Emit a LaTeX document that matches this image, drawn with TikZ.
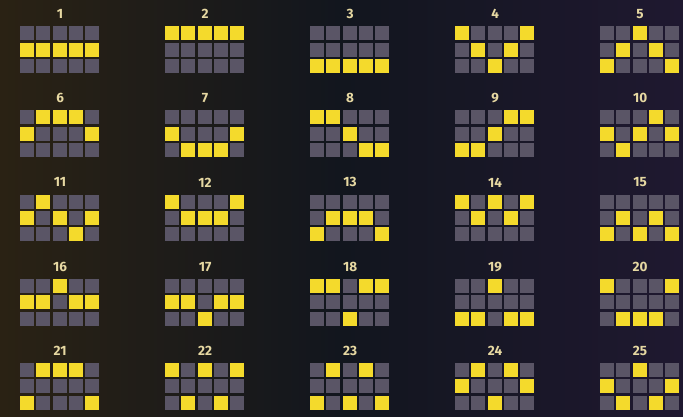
\documentclass[tikz,border=0pt]{standalone}
\usepackage{fontspec}
\setsansfont{Fira Sans}
\usetikzlibrary{positioning}
\definecolor{bgleft}{HTML}{2A2214}
\definecolor{bgmid}{HTML}{12161E}
\definecolor{bgright}{HTML}{1F1830}
\definecolor{cellon}{HTML}{F4DA2C}
\definecolor{celloff}{HTML}{5A5566}
\definecolor{numcol}{HTML}{E6D8A2}
\tikzset{cell/.style={draw=none, minimum size=14pt, inner sep=0pt, anchor=north west}}
\tikzset{numlabel/.style={text=numcol, font=\sffamily\bfseries\fontsize{13.5}{14}\selectfont, inner sep=0pt}}

\begin{document}
\begin{tikzpicture}[
  x=1pt,y=-1pt,
  backdrop/.style={draw=none}
]
  \useasboundingbox (0,0) rectangle (683,416);
  \shade[backdrop, left color=bgleft, right color=bgright, middle color=bgmid] (0,0) rectangle (683,416);

  \foreach \n/\pa/\pb/\pc/\pd/\pe in {
      1/1/1/1/1/1, 2/0/0/0/0/0, 3/2/2/2/2/2, 4/0/1/2/1/0, 5/2/1/0/1/2,
      6/1/0/0/0/1, 7/1/2/2/2/1, 8/0/0/1/2/2, 9/2/2/1/0/0, 10/1/2/1/0/1,
      11/1/0/1/2/1, 12/0/1/1/1/0, 13/2/1/1/1/2, 14/0/1/0/1/0, 15/2/1/2/1/2,
      16/1/1/0/1/1, 17/1/1/2/1/1, 18/0/0/2/0/0, 19/2/2/0/2/2, 20/0/2/2/2/0,
      21/2/0/0/0/2, 22/0/2/0/2/0, 23/2/0/2/0/2, 24/1/0/2/0/1, 25/1/2/0/2/1} {
    \pgfmathtruncatemacro{\gc}{mod(\n-1,5)}
    \pgfmathtruncatemacro{\gr}{int((\n-1)/5)}
    \pgfmathsetmacro{\gx}{19.6+145*\gc}
    \pgfmathsetmacro{\gy}{26+84.2*\gr}
    \node[numlabel] (num\n) at (\gx+40.5,\gy-12) {\n};
    \foreach \i/\act in {0/\pa,1/\pb,2/\pc,3/\pd,4/\pe} {
      \foreach \j in {0,1,2} {
        \ifnum\j=\act\relax \def\cellcol{cellon}\else\def\cellcol{celloff}\fi
        \node[cell, fill=\cellcol] (c\n-\i-\j) at (\gx+\i*16.4,\gy+\j*16.4) {};
      }
    }
  }
\end{tikzpicture}
\end{document}
